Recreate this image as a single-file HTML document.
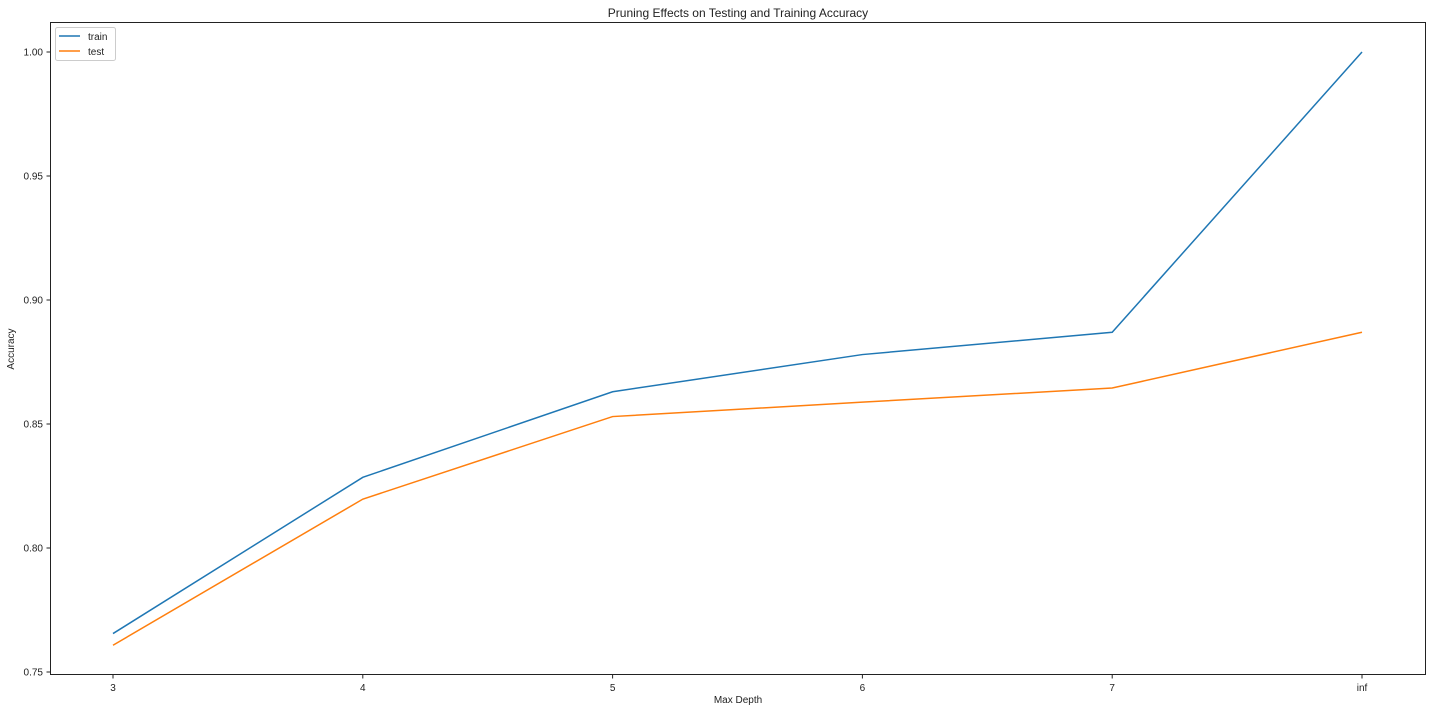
<!DOCTYPE html>
<html><head><meta charset="utf-8"><style>
body{margin:0;background:#fff;}
svg text{font-family:"Liberation Sans","DejaVu Sans",sans-serif;fill:#222;}
</style></head><body>
<svg width="1432" height="712" xmlns="http://www.w3.org/2000/svg">
<rect width="1432" height="712" fill="#fff"/>
<text x="738" y="17" font-size="12" text-anchor="middle">Pruning Effects on Testing and Training Accuracy</text>
<g id="axes"></g>
<g id="lines"></g>
<rect x="50.5" y="22.5" width="1375" height="652" fill="none" stroke="#222" stroke-width="1"/>
<g>
<rect x="55.5" y="27.5" width="60" height="33" rx="2" fill="#fff" stroke="#ccc"/>
<line x1="59" y1="36" x2="80" y2="36" stroke="#1f77b4" stroke-width="1.5"/>
<text x="88" y="40" font-size="10">train</text>
<line x1="59" y1="51" x2="80" y2="51" stroke="#ff7f0e" stroke-width="1.5"/>
<text x="88" y="55" font-size="10">test</text>
</g>
<text x="738" y="703" font-size="10" text-anchor="middle">Max Depth</text>
<text transform="translate(14,349) rotate(-90)" font-size="10" text-anchor="middle">Accuracy</text>
</svg>
<script>
const categories=["3","4","5","6","7","inf"];
const trainValues=[0.7655,0.8285,0.863,0.878,0.887,1.0];
const testValues=[0.7608,0.8197,0.853,0.8588,0.8645,0.887];
const yTicks=[0.75,0.80,0.85,0.90,0.95,1.00];
const NS="http://www.w3.org/2000/svg";
function xs(i){return 113+i*249.8;}
function ys(v){return 672-(v-0.75)/0.25*620;}
const axes=document.getElementById('axes');
categories.forEach((c,i)=>{
  const l=document.createElementNS(NS,'line');
  l.setAttribute('x1',xs(i));l.setAttribute('x2',xs(i));l.setAttribute('y1',674.5);l.setAttribute('y2',678.5);l.setAttribute('stroke','#222');
  
  
  axes.appendChild(l);
  const t=document.createElementNS(NS,'text');
  t.setAttribute('x',xs(i));t.setAttribute('y',691);t.setAttribute('font-size','10');t.setAttribute('text-anchor','middle');t.textContent=c;
  
  
  axes.appendChild(t);
});
yTicks.forEach(v=>{
  const l=document.createElementNS(NS,'line');
  l.setAttribute('x1',46.5);l.setAttribute('x2',50.5);l.setAttribute('y1',ys(v));l.setAttribute('y2',ys(v));l.setAttribute('stroke','#222');
  
  
  axes.appendChild(l);
  const t=document.createElementNS(NS,'text');
  t.setAttribute('x',43);t.setAttribute('y',ys(v)+3.5);t.setAttribute('font-size','10');t.setAttribute('text-anchor','end');t.textContent=v.toFixed(2);
  
  
  axes.appendChild(t);
});
const lines=document.getElementById('lines');
[[trainValues,'#1f77b4','train-line'],[testValues,'#ff7f0e','test-line']].forEach(([vals,col,name])=>{
  const p=document.createElementNS(NS,'polyline');
  p.setAttribute('points',vals.map((v,i)=>xs(i)+','+ys(v)).join(' '));
  p.setAttribute('fill','none');p.setAttribute('stroke',col);p.setAttribute('stroke-width','1.5');
  
  
  lines.appendChild(p);
});
</script>
</body></html>
